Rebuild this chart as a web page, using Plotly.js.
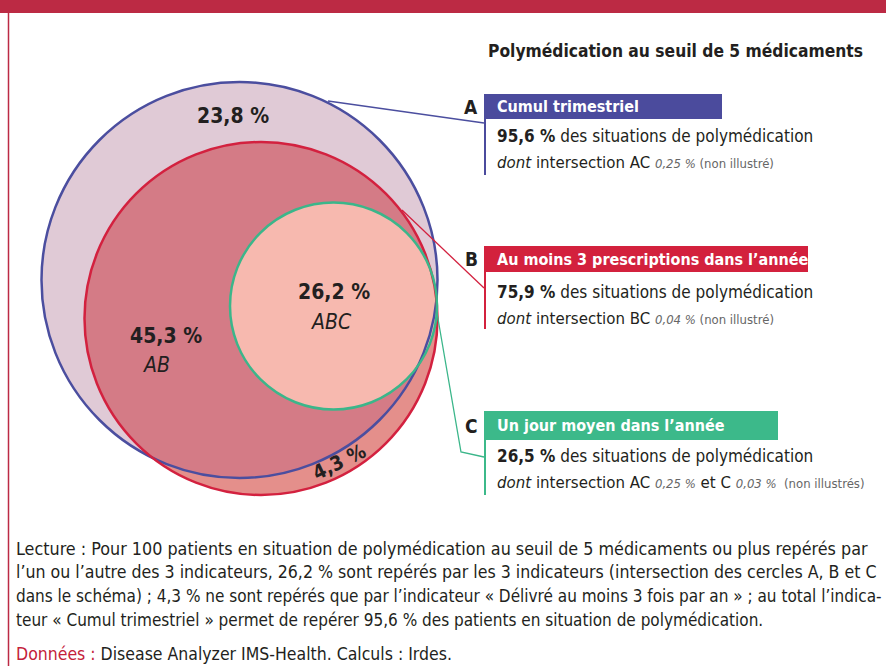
<!DOCTYPE html>
<html>
<head>
<meta charset="utf-8">
<script src="https://cdn.plot.ly/plotly-3.0.1.min.js"></script>
<style>
  html, body { margin: 0; padding: 0; background: #ffffff; }
  #chart { width: 886px; height: 666px; }
</style>
</head>
<body>
<div id="chart"></div>
<script>
// ---------------- DATA ----------------
const chartTitle = 'Polymédication au seuil de 5 médicaments';
const regionShares = ['23,8 %', '45,3 %', '26,2 %', '4,3 %'];
const regionNames = ['', 'AB', 'ABC', ''];
const indicatorLetters = ['A', 'B', 'C'];
const indicatorNames = ['Cumul trimestriel', 'Au moins 3 prescriptions dans l’année', 'Un jour moyen dans l’année'];
const indicatorShares = ['95,6 %', '75,9 %', '26,5 %'];
const indicatorNotes = [
  '<i>dont</i> intersection AC <span style="color:#666666;font-size:13px"><i>0,25 %</i> (non illustré)</span>',
  '<i>dont</i> intersection BC <span style="color:#666666;font-size:13px"><i>0,04 %</i> (non illustré)</span>',
  '<i>dont</i> intersection AC <span style="color:#666666;font-size:13px"><i>0,25 %</i></span> et C <span style="color:#666666;font-size:13px"><i>0,03 %</i>  (non illustrés)</span>'
];
const readingLines = [
  'Lecture : Pour 100 patients en situation de polymédication au seuil de 5 médicaments ou plus repérés par',
  'l’un ou l’autre des 3 indicateurs, 26,2 % sont repérés par les 3 indicateurs (intersection des cercles A, B et C',
  'dans le schéma) ; 4,3 % ne sont repérés que par l’indicateur « Délivré au moins 3 fois par an » ; au total l’indica-',
  'teur « Cumul trimestriel » permet de repérer 95,6 % des patients en situation de polymédication.'
];
const sourceLabel = 'Données :';
const sourceText = 'Disease Analyzer IMS-Health. Calculs : Irdes.';

// ---------------- GEOMETRY / STYLE (layout) ----------------
const FONT = '"DejaVu Sans Condensed", "Liberation Sans Narrow", sans-serif';
const TXT = '#231f20';
const circles = {
  A: {cx: 239.5, cy: 280, r: 198, fill: '#e0cad6', line: '#4b4e9f'},
  B: {cx: 261, cy: 318.5, r: 176.5, fill: '#e48f8b', line: '#d3213f'},
  C: {cx: 333.5, cy: 306, r: 103.5, fill: '#f7b9af', line: '#3bb68a'}
};
const lensFill = '#d47b86';
const boxColors = ['#4b4b9d', '#d3213d', '#3cb98a'];
const boxes = [
  {x0: 484, x1: 722, y0: 94, y1: 119, lineEnd: 175, l1: 136, l2: 162},
  {x0: 484, x1: 808, y0: 246, y1: 272, lineEnd: 329, l1: 292, l2: 318},
  {x0: 484, x1: 778, y0: 411, y1: 440, lineEnd: 495, l1: 456, l2: 482}
];
const leaders = [
  [[328, 101], [484, 123]],
  [[402, 210], [484, 288]],
  [[437, 313], [461, 452], [484, 457]]
];

function circleShape(c, withFill, withLine) {
  return {
    type: 'circle', xref: 'x', yref: 'y', layer: 'above',
    x0: c.cx - c.r, x1: c.cx + c.r, y0: c.cy - c.r, y1: c.cy + c.r,
    fillcolor: withFill ? c.fill : 'rgba(0,0,0,0)',
    line: {color: withLine ? c.line : 'rgba(0,0,0,0)', width: withLine ? 2.5 : 0}
  };
}
function inside(p, c) { return Math.hypot(p[0] - c.cx, p[1] - c.cy) <= c.r + 1e-6; }
function arc(c, a1, a2, other) {
  let end = a2;
  while (end <= a1) end += 2 * Math.PI;
  let mid = (a1 + end) / 2;
  if (!inside([c.cx + c.r * Math.cos(mid), c.cy + c.r * Math.sin(mid)], other)) end -= 2 * Math.PI;
  const pts = [], n = 120;
  for (let i = 0; i <= n; i++) {
    const t = a1 + (end - a1) * i / n;
    pts.push([c.cx + c.r * Math.cos(t), c.cy + c.r * Math.sin(t)]);
  }
  return pts;
}
function lensPath(c1, c2) {
  const dx = c2.cx - c1.cx, dy = c2.cy - c1.cy, d = Math.hypot(dx, dy);
  const a = (c1.r * c1.r - c2.r * c2.r + d * d) / (2 * d);
  const h = Math.sqrt(Math.max(0, c1.r * c1.r - a * a));
  const mx = c1.cx + a * dx / d, my = c1.cy + a * dy / d;
  const p1 = [mx + h * dy / d, my - h * dx / d];
  const p2 = [mx - h * dy / d, my + h * dx / d];
  const ang = (c, p) => Math.atan2(p[1] - c.cy, p[0] - c.cx);
  const arc2 = arc(c2, ang(c2, p1), ang(c2, p2), c1);
  const arc1 = arc(c1, ang(c1, p2), ang(c1, p1), c2);
  const all = arc2.concat(arc1);
  return 'M' + all.map(p => p[0].toFixed(2) + ',' + p[1].toFixed(2)).join('L') + 'Z';
}

const shapes = [];
shapes.push({type: 'rect', xref: 'x', yref: 'y', x0: 0, x1: 886, y0: 0, y1: 13, fillcolor: '#bc2a44', line: {width: 0}, layer: 'below'});
shapes.push({type: 'line', xref: 'x', yref: 'y', x0: 8.5, x1: 8.5, y0: 13, y1: 666, line: {color: '#bc2a44', width: 1.5}, layer: 'below'});
shapes.push(circleShape(circles.A, true, false));
shapes.push(circleShape(circles.B, true, false));
shapes.push({type: 'path', xref: 'x', yref: 'y', layer: 'above', path: lensPath(circles.A, circles.B), fillcolor: lensFill, line: {width: 0}});
shapes.push(circleShape(circles.C, true, false));
shapes.push(circleShape(circles.A, false, true));
shapes.push(circleShape(circles.B, false, true));
shapes.push(circleShape(circles.C, false, true));
const lineColors = [circles.A.line, circles.B.line, circles.C.line];
leaders.forEach((pts, i) => {
  shapes.push({type: 'path', xref: 'x', yref: 'y', layer: 'above',
    path: 'M' + pts.map(p => p[0] + ',' + p[1]).join('L'),
    line: {color: lineColors[i], width: 1.3}});
});
boxes.forEach((b, i) => {
  shapes.push({type: 'rect', xref: 'x', yref: 'y', layer: 'above', x0: b.x0, x1: b.x1, y0: b.y0, y1: b.y1, fillcolor: boxColors[i], line: {width: 0}});
  shapes.push({type: 'line', xref: 'x', yref: 'y', layer: 'above', x0: b.x0 + 1, x1: b.x0 + 1, y0: b.y0, y1: b.lineEnd, line: {color: boxColors[i], width: 2}});
});

const annotations = [];
function ann(x, y, text, opts) {
  annotations.push(Object.assign({
    x: x, y: y, xref: 'x', yref: 'y', text: text, showarrow: false,
    xanchor: 'left', yanchor: 'middle', font: {family: FONT, size: 17, color: TXT}
  }, opts || {}));
}
ann(675, 51, '<b>' + chartTitle + '</b>', {xanchor: 'center', font: {family: FONT, size: 17.3, color: TXT}});
ann(233, 116, '<b>' + regionShares[0] + '</b>', {xanchor: 'center', font: {family: FONT, size: 21, color: TXT}});
ann(166, 336, '<b>' + regionShares[1] + '</b>', {xanchor: 'center', font: {family: FONT, size: 21, color: TXT}});
ann(156, 365, '<i>' + regionNames[1] + '</i>', {xanchor: 'center', font: {family: FONT, size: 21, color: TXT}});
ann(334, 292, '<b>' + regionShares[2] + '</b>', {xanchor: 'center', font: {family: FONT, size: 21, color: TXT}});
ann(331, 322, '<i>' + regionNames[2] + '</i>', {xanchor: 'center', font: {family: FONT, size: 21, color: TXT}});
ann(339, 462, '<b>' + regionShares[3] + '</b>', {xanchor: 'center', textangle: -26, font: {family: FONT, size: 20, color: TXT}});
boxes.forEach((b, i) => {
  ann(480, (b.y0 + b.y1) / 2, '<b>' + indicatorLetters[i] + '</b>', {xanchor: 'right', font: {family: FONT, size: 19, color: TXT}});
  ann(495, (b.y0 + b.y1) / 2, '<b>' + indicatorNames[i] + '</b>', {font: {family: FONT, size: 16, color: '#ffffff'}});
  ann(495, b.l1, '<b>' + indicatorShares[i] + '</b> des situations de polymédication', {font: {family: FONT, size: 17, color: TXT}});
  ann(495, b.l2, indicatorNotes[i], {font: {family: FONT, size: 16.7, color: TXT}});
});
const readY = [548, 572, 596, 620];
const readSize = [17.8, 17.6, 17, 17];
readingLines.forEach((t, i) => ann(14, readY[i], t, {font: {family: FONT, size: readSize[i], color: TXT}}));
ann(14, 654, '<span style="color:#c4213a">' + sourceLabel + '</span> ' + sourceText, {font: {family: FONT, size: 17.5, color: TXT}});

const layout = {
  width: 886, height: 666,
  margin: {l: 0, r: 0, t: 0, b: 0, pad: 0},
  paper_bgcolor: '#ffffff', plot_bgcolor: '#ffffff',
  showlegend: false,
  xaxis: {range: [0, 886], visible: false, fixedrange: true},
  yaxis: {range: [666, 0], visible: false, fixedrange: true},
  shapes: shapes,
  annotations: annotations
};
Plotly.newPlot('chart', [{x: [], y: [], type: 'scatter', hoverinfo: 'skip'}], layout, {staticPlot: true, displayModeBar: false});
</script>
</body>
</html>
